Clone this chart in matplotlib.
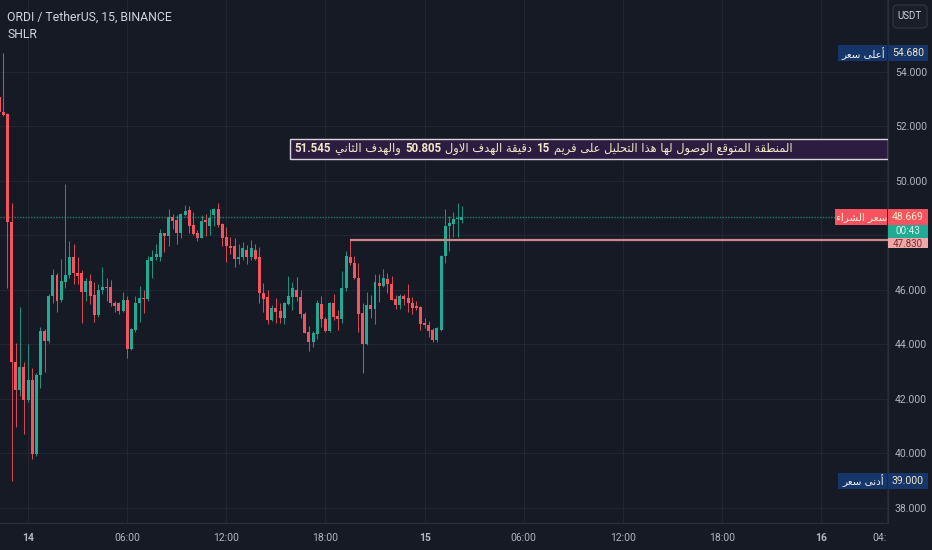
import re
import matplotlib
matplotlib.use('Agg')
import matplotlib.pyplot as plt
import matplotlib.transforms as mtrans
from matplotlib.patches import Rectangle, FancyBboxPatch
from matplotlib.offsetbox import TextArea, HPacker, AnnotationBbox
import numpy as np

# ---------------- data ----------------
opens = [53.09, 52.54, 52.46, 48.50, 43.35, 42.34, 43.17, 41.97, 42.68, 39.98,
         42.86, 44.48, 44.11, 45.76, 46.54, 45.62, 46.29, 46.54, 47.19, 46.60,
         46.60, 45.93, 46.33, 45.80, 45.07, 45.99, 46.10, 46.10, 45.52, 45.50,
         45.23, 45.62, 43.84, 44.51, 45.50, 45.70, 45.65, 47.06, 47.20, 47.21,
         48.07, 47.97, 48.66, 48.56, 48.09, 48.74, 48.93, 48.38, 48.07, 47.92,
         48.52, 48.33, 48.74, 48.95, 48.41, 47.95, 47.60, 47.60, 47.12, 47.19,
         47.48, 47.19, 47.48, 47.19, 45.89, 45.72, 44.91, 45.35, 45.23, 44.98,
         45.48, 45.74, 46.01, 45.72, 45.13, 44.44, 44.09, 44.37, 45.48, 44.94,
         44.49, 45.50, 45.03, 44.94, 46.05, 47.19, 46.99, 46.42, 45.15, 44.03,
         45.46, 45.29, 46.26, 46.13, 46.39, 46.23, 45.65, 45.46, 45.79, 45.69,
         45.52, 45.38, 45.38, 44.79, 44.72, 44.51, 44.15, 44.54, 47.24, 48.34,
         48.41, 48.60, 48.58]
highs = [53.20, 54.68, 52.50, 49.20, 44.04, 45.37, 43.35, 44.03, 43.12, 42.95,
         44.64, 44.55, 45.83, 46.75, 46.62, 47.15, 49.90, 47.79, 47.68, 47.19,
         46.74, 46.45, 46.57, 46.30, 46.20, 46.82, 46.45, 46.35, 45.60, 45.55,
         45.93, 45.77, 44.60, 45.77, 46.13, 45.98, 47.24, 47.46, 47.68, 48.22,
         48.10, 48.95, 48.80, 48.75, 48.82, 49.11, 49.07, 48.84, 48.20, 48.74,
         48.79, 48.95, 49.00, 49.17, 48.45, 48.30, 47.95, 47.90, 47.70, 47.76,
         47.65, 47.82, 47.70, 47.56, 46.26, 46.00, 45.45, 45.70, 45.50, 45.55,
         46.50, 46.30, 46.46, 46.00, 45.20, 44.66, 44.50, 45.63, 45.76, 45.00,
         45.55, 45.86, 45.25, 46.70, 47.43, 47.83, 47.23, 46.99, 45.50, 45.93,
         45.82, 46.57, 46.57, 46.76, 46.60, 46.50, 45.80, 45.85, 45.86, 46.20,
         45.72, 45.60, 45.40, 44.95, 44.85, 44.60, 44.65, 47.27, 48.95, 48.70,
         48.86, 49.17, 49.07]
lows = [52.40, 52.38, 46.06, 39.00, 40.96, 42.10, 40.73, 41.90, 39.81, 39.90,
        42.40, 42.98, 44.05, 45.50, 45.19, 45.55, 46.06, 46.45, 46.20, 46.20,
        44.79, 45.60, 45.47, 44.82, 45.00, 45.85, 45.60, 45.40, 45.20, 45.13,
        45.20, 43.51, 43.80, 44.45, 44.82, 45.15, 45.60, 46.45, 47.10, 47.06,
        47.40, 47.60, 48.25, 47.70, 47.90, 48.70, 48.07, 48.00, 47.80, 47.90,
        47.96, 48.00, 48.33, 48.30, 47.60, 47.03, 47.30, 46.82, 46.95, 47.10,
        46.95, 47.10, 47.10, 45.50, 45.20, 44.74, 44.85, 44.78, 44.80, 44.74,
        45.45, 45.25, 45.60, 44.95, 44.40, 43.76, 43.90, 44.20, 44.64, 44.45,
        44.45, 44.90, 44.54, 44.80, 45.95, 46.90, 46.40, 44.46, 42.95, 43.98,
        44.98, 44.76, 45.57, 46.10, 45.90, 45.62, 45.30, 45.30, 45.45, 45.20,
        45.13, 45.25, 44.54, 44.60, 44.27, 44.10, 44.10, 44.50, 47.00, 47.43,
        47.95, 47.95, 48.44]
closes = [52.54, 52.42, 48.50, 43.35, 42.34, 43.17, 41.97, 42.68, 39.98, 42.89,
          44.48, 44.11, 45.76, 46.56, 45.60, 46.32, 46.54, 47.19, 46.60, 46.50,
          45.93, 46.33, 45.76, 45.07, 46.01, 46.10, 46.05, 45.52, 45.40, 45.23,
          45.62, 43.82, 44.55, 45.51, 45.70, 45.65, 47.11, 47.21, 47.30, 48.07,
          47.97, 48.66, 48.53, 48.09, 48.78, 48.90, 48.34, 48.04, 47.92, 48.52,
          48.50, 48.62, 48.95, 48.38, 47.91, 47.60, 47.55, 47.15, 47.21, 47.52,
          47.19, 47.52, 47.15, 45.89, 45.68, 44.91, 45.35, 45.19, 44.98, 45.52,
          45.76, 46.05, 45.72, 45.13, 44.42, 44.09, 44.40, 45.50, 44.94, 44.49,
          45.50, 45.01, 44.94, 46.05, 47.23, 46.97, 46.42, 45.13, 44.03, 45.46,
          45.29, 46.27, 46.13, 46.42, 46.21, 45.62, 45.46, 45.79, 45.65, 45.50,
          45.35, 45.35, 44.76, 44.70, 44.49, 44.15, 44.59, 47.25, 48.35, 48.44,
          48.60, 48.62, 48.669]

price_ticks = [38, 40, 42, 44, 46, 48, 50, 52, 54]
# time axis ticks as bar indices (15-minute bars, bar 0 = 13th 22:15)
time_tick_bars = [7, 31, 55, 79, 103, 127, 151, 175, 199, 215]
time_tick_labels = ['14', '06:00', '12:00', '18:00', '15', '06:00', '12:00', '18:00', '16', '04:']
day_labels = {'14', '15', '16'}

title_line1 = 'ORDI / TetherUS, 15, BINANCE'
title_line2 = 'SHLR'
currency = 'USDT'

high_price = 54.680
low_price = 39.000
buy_price = 48.669
level_price = 47.830
level_start_bar = 85
countdown = '00:43'
target1 = 50.805
target2 = 51.545
zone_start_bar = 71
zone_text = 'المنطقة المتوقع الوصول لها هذا التحليل على فريم 15 دقيقة الهدف الاول 50.805 والهدف الثاني 51.545'
high_label = 'أعلى سعر'
low_label = 'أدنى سعر'
buy_label = 'سعر الشراء'

# ---------------- Arabic shaping (presentation forms + RTL order) ----------------
_DUAL = {'ئ': 0xFE89, 'ب': 0xFE8F, 'ت': 0xFE95, 'ث': 0xFE99, 'ج': 0xFE9D, 'ح': 0xFEA1,
         'خ': 0xFEA5, 'س': 0xFEB1, 'ش': 0xFEB5, 'ص': 0xFEB9, 'ض': 0xFEBD, 'ط': 0xFEC1,
         'ظ': 0xFEC5, 'ع': 0xFEC9, 'غ': 0xFECD, 'ف': 0xFED1, 'ق': 0xFED5, 'ك': 0xFED9,
         'ل': 0xFEDD, 'م': 0xFEE1, 'ن': 0xFEE5, 'ه': 0xFEE9, 'ي': 0xFEF1}
_RIGHT = {'آ': 0xFE81, 'أ': 0xFE83, 'ؤ': 0xFE85, 'إ': 0xFE87, 'ا': 0xFE8D, 'ة': 0xFE93,
          'د': 0xFEA9, 'ذ': 0xFEAB, 'ر': 0xFEAD, 'ز': 0xFEAF, 'و': 0xFEED, 'ى': 0xFEEF}
_NONE = {'ء': 0xFE80}
_LAMALEF = {'آ': 0xFEF5, 'أ': 0xFEF7, 'إ': 0xFEF9, 'ا': 0xFEFB}


def _joinable(c):
    return c in _DUAL or c in _RIGHT


def shape(s):
    out = []
    i, n = 0, len(s)
    while i < n:
        c = s[i]
        p = i > 0 and s[i - 1] in _DUAL and _joinable(c)
        if c == 'ل' and i + 1 < n and s[i + 1] in _LAMALEF:
            out.append(chr(_LAMALEF[s[i + 1]] + (1 if p else 0)))
            i += 2
            continue
        nx = c in _DUAL and i + 1 < n and _joinable(s[i + 1])
        if c in _DUAL:
            off = 3 if (p and nx) else 1 if p else 2 if nx else 0
            out.append(chr(_DUAL[c] + off))
        elif c in _RIGHT:
            out.append(chr(_RIGHT[c] + (1 if p else 0)))
        elif c in _NONE:
            out.append(chr(_NONE[c]))
        else:
            out.append(c)
        i += 1
    return ''.join(out)


def visual_segments(s):
    parts = [t for t in re.split(r'([0-9][0-9.:]*)', s) if t.strip()]
    segs = []
    for t in parts:
        if re.fullmatch(r'[0-9][0-9.:]*', t):
            segs.append((t, True))
        else:
            segs.append((shape(t.strip())[::-1], False))
    return segs[::-1]


def ar(s):
    return ''.join(t for t, _ in visual_segments(s))


# ---------------- style ----------------
BG = '#161a25'
GRID = '#222633'
UP = '#22ab94'
DOWN = '#f7525f'
TXT = '#b2b5be'
AR_FONT = ['DejaVu Sans']
NUM_FONT = ['Roboto', 'DejaVu Sans']

W, H = 932, 550
AX_R, AX_B = 888, 523
fig = plt.figure(figsize=(W / 100, H / 100), dpi=100, facecolor=BG)
ax = fig.add_axes([0, (H - AX_B) / H, AX_R / W, AX_B / H])
ax.set_facecolor(BG)

n = len(closes)
x = np.arange(n)
o = np.array(opens); c = np.array(closes); hi = np.array(highs); lo = np.array(lows)
up = c >= o
colors = np.where(up, UP, DOWN)
wick_colors = np.where(up, '#1f8f7e', '#d04a55')

ax.set_xlim(0.2, 0.2 + AX_R / 4.13)
ax.set_ylim(37.45, 56.63)

# wicks and bodies
ax.vlines(x, lo, hi, colors=wick_colors, linewidth=0.75, zorder=3)
body_bottom = np.minimum(o, c)
body_h = np.maximum(np.abs(c - o), 0.05)
ax.bar(x, body_h, bottom=body_bottom, width=0.72, color=colors, linewidth=0, zorder=4)

# grid / axes (price labels hidden behind the current-price tags are left blank)
ax.set_yticks(price_ticks)
ax.set_yticklabels(['' if (level_price - 0.6) < v < (buy_price + 0.4) else f'{v:.3f}'
                    for v in price_ticks])
ax.yaxis.tick_right()
ax.set_xticks(time_tick_bars)
ax.set_xticklabels(time_tick_labels)
ax.tick_params(axis='both', length=0, colors=TXT, labelsize=7.5)
ax.tick_params(axis='y', pad=5)
ax.tick_params(axis='x', pad=7)
for lab in ax.get_xticklabels() + ax.get_yticklabels():
    lab.set_family(NUM_FONT)
for lab in ax.get_xticklabels():
    if lab.get_text() in day_labels:
        lab.set_fontweight('bold')
ax.get_xticklabels()[-1].set_ha('right')
ax.grid(True, color=GRID, linewidth=0.8, zorder=0)
ax.set_axisbelow(True)
for s in ['top', 'left']:
    ax.spines[s].set_visible(False)
for s in ['right', 'bottom']:
    ax.spines[s].set_color('#2a2e39')
    ax.spines[s].set_linewidth(1)

# last price dotted line
ax.axhline(buy_price, xmin=0, xmax=835 / AX_R, color='#1f7d72', linestyle=(0, (1, 1)),
           linewidth=1.0, zorder=2)

# horizontal level line
ax.hlines(level_price, level_start_bar, ax.get_xlim()[1], colors='#c98a8e', linewidth=1.6, zorder=5)

# target zone
zone = Rectangle((zone_start_bar - 0.5, target1), ax.get_xlim()[1] - zone_start_bar + 0.5,
                 target2 - target1, facecolor='#2c1c40', edgecolor='#d8d4dc', linewidth=1.0,
                 zorder=6)
ax.add_patch(zone)
children = []
for t, is_num in visual_segments(zone_text):
    if is_num:
        props = dict(color='#f3e7c6', fontsize=8.3, fontweight='bold', family=NUM_FONT)
    else:
        props = dict(color='#f3e7c6', fontsize=8.3, family=AR_FONT)
    children.append(TextArea(t, textprops=props))
pack = HPacker(children=children, align='baseline', pad=0, sep=3)
ab = AnnotationBbox(pack, (zone_start_bar + 0.5, (target1 + target2) / 2), xycoords='data',
                    box_alignment=(0, 0.5), frameon=False, zorder=7)
ax.add_artist(ab)

# right-side price labels
trans = mtrans.blended_transform_factory(ax.transAxes, ax.transData)
ppu = AX_B / (56.63 - 37.45)  # pixels per price unit
box_w = 40 / AX_R


def price_box(price, text, face, tcolor, hpx=16, z=10, text_dy_px=0.0, fs=7.5):
    hh = hpx / ppu
    ax.add_patch(Rectangle((1.0, price - hh / 2), box_w, hh, transform=trans, facecolor=face,
                           edgecolor='none', clip_on=False, zorder=z))
    ax.text(1.0 + box_w / 2, price - text_dy_px / ppu, text, transform=trans, ha='center',
            va='center', color=tcolor, fontsize=fs, family=NUM_FONT, clip_on=False,
            zorder=z + 1)


def left_tag(price, text, face, tcolor, left_px, hpx=16):
    hh = hpx / ppu
    x0 = left_px / AX_R
    ax.add_patch(Rectangle((x0, price - hh / 2), (AX_R - 1 - left_px) / AX_R, hh, transform=trans,
                           facecolor=face, edgecolor='none', clip_on=False, zorder=10))
    ax.text((x0 + 1.0) / 2, price, ar(text), transform=trans, ha='center', va='center',
            color=tcolor, fontsize=7.5, family=AR_FONT, clip_on=False, zorder=11)


price_box(high_price, f'{high_price:.3f}', '#16366a', '#f0e6c0')
left_tag(high_price, high_label, '#16366a', '#f4f4f4', 838)
price_box(low_price, f'{low_price:.3f}', '#16366a', '#f0e6c0')
left_tag(low_price, low_label, '#16366a', '#f4f4f4', 838)
price_box(level_price, f'{level_price:.3f}', '#f0a7a7', '#7a3030', hpx=17, z=10,
          text_dy_px=4.5, fs=7.0)
price_box(buy_price, f'{buy_price:.3f}', DOWN, '#fff0c8', z=12)
left_tag(buy_price, buy_label, DOWN, '#fff4dc', 835)
price_box(buy_price - 14.5 / ppu, countdown, UP, '#d8f2ea', hpx=13, z=12, text_dy_px=-0.5, fs=7.2)

# header
fig.text(7 / W, 1 - 17 / H, title_line1, color='#d1d4dc', fontsize=8.8, family=NUM_FONT,
         va='center', ha='left')
fig.text(7 / W, 1 - 34 / H, title_line2, color='#d1d4dc', fontsize=8.8, family=NUM_FONT,
         va='center', ha='left')

# currency box
fig.patches.append(FancyBboxPatch((893 / W, 1 - 28 / H), 34 / W, 23 / H,
                                  boxstyle='round,pad=0,rounding_size=0.006',
                                  transform=fig.transFigure, facecolor='#1a1e29',
                                  edgecolor='#2e3240', linewidth=1))
fig.text(910 / W, 1 - 16 / H, currency, color='#d1d4dc', fontsize=7, family=NUM_FONT,
         ha='center', va='center')

fig.savefig('out.png', dpi=100, facecolor=BG)
